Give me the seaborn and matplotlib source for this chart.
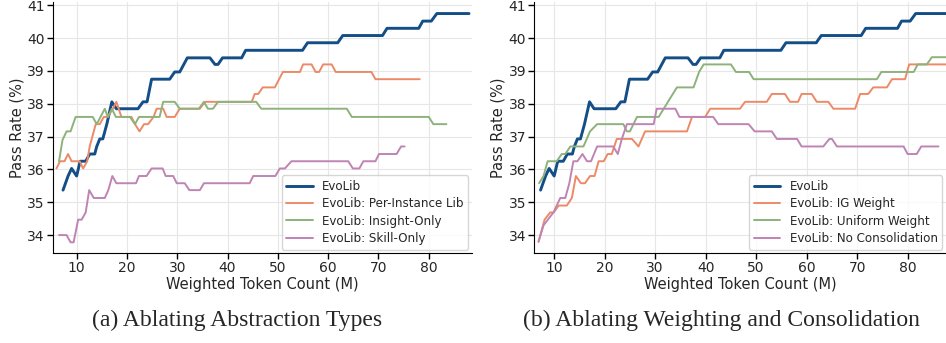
import pandas as pd
import seaborn as sns
from matplotlib import pyplot as plt

# ---- data ----
evolib_x = [7.3, 8.3, 9.0, 10.0, 10.7, 11.8, 12.6, 13.6, 14.0, 14.6, 15.2, 16.0, 17.0, 17.9, 22.2, 23.2,
            24.0, 24.9, 28.5, 29.5, 30.5, 32.0, 36.5, 37.5, 38.1, 39.0, 42.8, 43.6, 54.9, 55.9, 61.9,
            62.9, 70.8, 71.7, 78.0, 78.8, 80.5, 81.6, 88.0]
evolib_y = [35.37, 35.8, 36.03, 35.8, 36.25, 36.25, 36.47, 36.47, 36.7, 36.93, 36.93, 37.38, 38.06, 37.85,
            37.85, 38.06, 38.06, 38.75, 38.75, 38.97, 38.97, 39.4, 39.4, 39.2, 39.2, 39.4, 39.4, 39.63,
            39.63, 39.86, 39.86, 40.08, 40.08, 40.3, 40.3, 40.52, 40.52, 40.75, 40.75]

per_inst_x = [6.0, 6.7, 7.6, 8.3, 9.0, 10.6, 11.3, 12.1, 12.6, 13.8, 14.6, 15.4, 16.2, 17.2, 17.9, 18.9,
              20.9, 21.6, 22.5, 23.4, 24.2, 25.3, 25.9, 27.2, 27.9, 29.5, 30.5, 34.5, 35.5, 44.8, 45.4,
              46.1, 47.0, 49.4, 51.0, 54.4, 55.0, 56.7, 57.5, 58.2, 59.0, 60.7, 61.5, 68.6, 69.4, 78.2]
per_inst_y = [36.03, 36.25, 36.25, 36.47, 36.25, 36.25, 36.03, 36.25, 36.7, 37.38, 37.38, 37.6, 37.6,
              37.85, 38.06, 37.6, 37.6, 37.38, 37.16, 37.38, 37.38, 37.6, 37.85, 37.85, 37.6, 37.6,
              37.85, 37.85, 38.06, 38.06, 38.3, 38.3, 38.5, 38.5, 38.97, 38.97, 39.2, 39.2, 38.97,
              38.97, 39.2, 39.2, 38.97, 38.97, 38.75, 38.75]

insight_x = [6.5, 7.2, 8.0, 8.8, 9.8, 13.2, 14.0, 15.6, 16.2, 17.0, 17.8, 20.6, 21.6, 22.4, 26.5, 27.2,
             29.5, 30.5, 34.3, 35.3, 36.1, 37.1, 38.1, 45.7, 46.7, 63.7, 64.7, 80.0, 80.9, 83.5]
insight_y = [36.25, 36.9, 37.16, 37.16, 37.6, 37.6, 37.38, 37.85, 37.6, 37.85, 37.6, 37.6, 37.38, 37.6,
             37.6, 38.06, 38.06, 37.85, 37.85, 38.06, 37.85, 37.85, 38.06, 38.06, 37.85, 37.85, 37.6,
             37.6, 37.38, 37.38]

skill_x = [6.5, 8.0, 8.8, 9.4, 10.3, 11.0, 11.8, 12.5, 13.4, 15.6, 16.3, 17.1, 17.9, 21.8, 22.4, 23.9,
           24.9, 27.1, 27.7, 29.2, 29.9, 31.5, 32.4, 34.5, 35.3, 44.4, 45.1, 49.5, 50.4, 51.4, 52.7,
           64.0, 64.9, 66.2, 67.0, 69.4, 70.1, 73.6, 74.5, 75.2]
skill_y = [34.0, 34.0, 33.78, 33.78, 34.47, 34.47, 34.69, 35.37, 35.13, 35.13, 35.37, 35.8, 35.58, 35.58,
           35.8, 35.8, 36.03, 36.03, 35.8, 35.8, 35.58, 35.58, 35.37, 35.37, 35.58, 35.58, 35.8, 35.8,
           36.03, 36.03, 36.25, 36.25, 36.03, 36.03, 36.25, 36.25, 36.47, 36.47, 36.7, 36.7]

ig_x = [6.9, 8.1, 9.2, 9.9, 10.9, 12.5, 13.5, 14.3, 15.3, 16.1, 17.1, 18.0, 18.8, 19.8, 20.6, 21.4, 22.4,
        25.4, 26.7, 28.0, 36.3, 37.3, 39.9, 40.9, 46.8, 47.8, 52.1, 53.1, 55.7, 56.7, 58.3, 59.0, 61.0,
        62.0, 64.3, 65.3, 69.6, 70.6, 72.2, 73.2, 75.9, 76.9, 79.5, 80.3, 88.0]
ig_y = [33.8, 34.47, 34.69, 34.69, 34.9, 34.9, 35.13, 35.8, 35.58, 35.58, 35.8, 35.8, 36.25, 36.25,
        36.47, 36.47, 36.93, 36.93, 36.7, 37.16, 37.16, 37.6, 37.6, 37.85, 37.85, 38.06, 38.06, 38.3,
        38.3, 38.06, 38.06, 38.3, 38.3, 38.06, 38.06, 37.85, 37.85, 38.3, 38.3, 38.5, 38.5, 38.75,
        38.75, 39.2, 39.2]

uniform_x = [7.0, 7.9, 8.7, 10.5, 11.5, 12.2, 13.2, 15.8, 17.1, 18.5, 23.7, 24.4, 25.0, 26.4, 30.7,
             34.3, 37.6, 38.7, 39.6, 45.0, 46.0, 48.6, 49.5, 73.9, 74.8, 81.2, 82.0, 83.8, 84.8, 88.0]
uniform_y = [35.58, 35.8, 36.25, 36.25, 36.47, 36.47, 36.7, 36.7, 37.16, 37.38, 37.38, 37.16, 37.16,
             37.6, 37.6, 38.5, 38.5, 38.97, 39.2, 39.2, 38.97, 38.97, 38.75, 38.75, 38.97, 38.97,
             39.2, 39.2, 39.42, 39.42]

nocons_x = [6.9, 7.9, 9.9, 11.2, 12.2, 13.0, 13.8, 14.6, 15.6, 16.5, 17.3, 18.5, 21.7, 22.6, 23.4, 24.4,
            29.7, 30.3, 34.0, 34.8, 41.5, 42.5, 48.5, 49.7, 53.1, 54.1, 58.1, 59.0, 63.3, 64.5, 65.0,
            66.0, 79.2, 80.0, 81.8, 82.7, 86.1]
nocons_y = [33.8, 34.3, 34.7, 35.13, 35.13, 35.58, 36.25, 36.25, 36.47, 36.25, 36.25, 36.7, 36.7, 36.47,
            36.93, 37.38, 37.38, 37.85, 37.85, 37.6, 37.6, 37.38, 37.38, 37.16, 37.16, 36.93, 36.93,
            36.7, 36.7, 36.93, 36.93, 36.7, 36.7, 36.47, 36.47, 36.7, 36.7]

colors = ["#144e87", "#ec8a68", "#8db27b", "#bf84b4"]
labels_a = ["EvoLib", "EvoLib: Per-Instance Lib", "EvoLib: Insight-Only", "EvoLib: Skill-Only"]
labels_b = ["EvoLib", "EvoLib: IG Weight", "EvoLib: Uniform Weight", "EvoLib: No Consolidation"]
series_a = [(evolib_x, evolib_y), (per_inst_x, per_inst_y), (insight_x, insight_y), (skill_x, skill_y)]
series_b = [(evolib_x, evolib_y), (ig_x, ig_y), (uniform_x, uniform_y), (nocons_x, nocons_y)]

# ---- style ----
sns.set_style("whitegrid", {"grid.color": "#e6e6e6", "axes.edgecolor": "black",
                            "xtick.bottom": True, "ytick.left": True})
plt.rcParams['font.family'] = ['DejaVu Sans']

fig = plt.figure(figsize=(9.46, 3.43), dpi=100)
ax_a = fig.add_axes([0.056, 0.262, 0.443, 0.732])
ax_b = fig.add_axes([0.565, 0.262, 0.435, 0.732])


def draw(ax, series, labels, xlim):
    for i, ((xs, ys), lab) in enumerate(zip(series, labels)):
        df = pd.DataFrame({"x": xs, "y": ys})
        sns.lineplot(data=df, x="x", y="y", ax=ax, color=colors[i], label=lab,
                     linewidth=2.1 if i == 0 else 1.4, sort=False, estimator=None)
    ax.set_xlim(*xlim)
    ax.set_ylim(33.45, 41.1)
    ax.set_xticks(range(10, 90, 10))
    ax.set_yticks(range(34, 42))
    ax.tick_params(axis="both", labelsize=10, length=4, width=1, color="black", pad=2)
    ax.set_xlabel("Weighted Token Count (M)", fontsize=10.5, labelpad=1)
    ax.set_ylabel("Pass Rate (%)", fontsize=10.5, labelpad=2)
    sns.despine(ax=ax)
    ax.legend(loc="lower right", fontsize=8.6, handlelength=2.2, borderaxespad=0.3,
              labelspacing=0.35)


draw(ax_a, series_a, labels_a, (5.3, 88.6))
draw(ax_b, series_b, labels_b, (6.1, 87.6))

fig.text(237 / 946, 1 - 320 / 343, "(a) Ablating Abstraction Types", ha="center", va="center",
         fontsize=17, family="Liberation Serif")
fig.text(721 / 946, 1 - 320 / 343, "(b) Ablating Weighting and Consolidation", ha="center",
         va="center", fontsize=17, family="Liberation Serif")

fig.savefig("out.png", dpi=100)
